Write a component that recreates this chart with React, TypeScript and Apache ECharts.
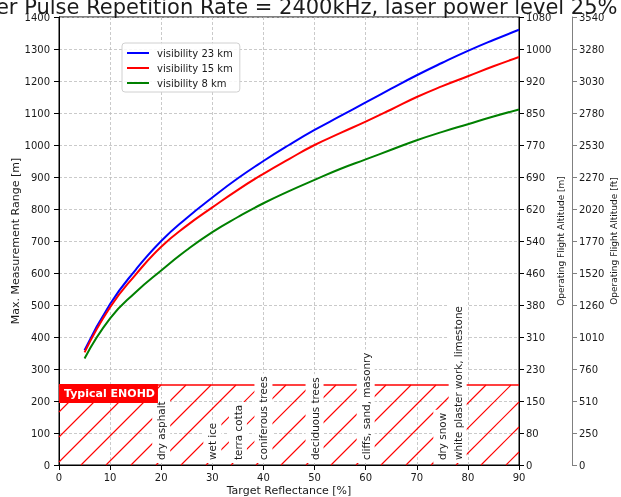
import React, { useEffect, useRef } from 'react';
import * as echarts from 'echarts';

const FONT = '"DejaVu Sans", Roboto, sans-serif';
const TXT = '#1a1a1a';

const titleText = 'Laser Pulse Repetition Rate = 2400kHz, laser power level 25%';
const seriesNames = ['visibility 23 km', 'visibility 15 km', 'visibility 8 km'];
const seriesColors = ['#0000ff', '#ff0000', '#008000'];

const reflectance = [5, 10, 15, 20, 25, 30, 35, 40, 45, 50, 55, 60, 65, 70, 75, 80, 85, 90];
const vis23 = [359, 503, 610, 700, 772, 836, 896, 950, 1000, 1047, 1090, 1133, 1176, 1218, 1257, 1294, 1328, 1360];
const vis15 = [352, 493, 595, 682, 748, 805, 860, 910, 956, 1000, 1037, 1073, 1111, 1150, 1184, 1215, 1246, 1275];
const vis8 = [333, 458, 540, 608, 672, 728, 775, 818, 856, 891, 925, 955, 985, 1015, 1041, 1065, 1089, 1111];

const altitudeMLabels = ['0', '80', '150', '230', '310', '380', '460', '540', '620', '690', '770', '850', '920', '1000', '1080'];
const altitudeFtLabels = ['0', '250', '510', '760', '1010', '1260', '1520', '1770', '2020', '2270', '2530', '2780', '3030', '3280', '3540'];

const materialNames = ['dry asphalt', 'wet ice', 'terra cotta', 'coniferous trees', 'deciduous trees', 'cliffs, sand, masonry', 'dry snow', 'white plaster work, limestone'];
const materialReflectance = [20, 30, 35, 40, 50, 60, 75, 78];

const enohdLabel = 'Typical ENOHD';
const enohdRegion = [0, 90, 250];

export default function App() {
  const ref = useRef<HTMLDivElement>(null);
  useEffect(() => {
    if (!ref.current) return;
    const chart = echarts.init(ref.current, null, { renderer: 'svg' });
    const allData = [vis23, vis15, vis8];
    const lineSeries = allData.map((d, i) => ({
      name: seriesNames[i],
      type: 'line',
      data: reflectance.map((x, j) => [x, d[j]]),
      smooth: 0.5,
      symbol: 'none',
      showSymbol: false,
      lineStyle: { color: seriesColors[i], width: 2 },
      itemStyle: { color: seriesColors[i] },
      z: 3,
    }));
    const axisLabelStyle = { color: TXT, fontSize: 10, fontFamily: FONT };
    const option: any = {
      animation: false,
      textStyle: { fontFamily: FONT },
      grid: { left: 59, right: 102, top: 17, bottom: 32, containLabel: false, outerBoundsMode: 'none', show: true, borderColor: '#000', borderWidth: 1, backgroundColor: 'transparent' },
      graphic: [
        {
          type: 'text', x: 289, y: 17, z: 10,
          style: { text: titleText, align: 'center', verticalAlign: 'bottom', fontSize: 21, fontFamily: FONT, fill: TXT },
        },
      ],
      legend: {
        data: seriesNames,
        orient: 'vertical',
        left: 122,
        top: 43,
        itemWidth: 22,
        itemHeight: 10,
        itemGap: 3,
        padding: [4, 7, 3, 4],
        borderColor: '#d0d0d0',
        borderWidth: 1,
        borderRadius: 3,
        backgroundColor: 'rgba(255,255,255,0.85)',
        itemStyle: { opacity: 0, borderWidth: 0 },
        lineStyle: { width: 2 },
        textStyle: { color: TXT, fontSize: 10, fontFamily: FONT, lineHeight: 12, padding: [0, 0, 0, 3] },
      },
      xAxis: {
        type: 'value', min: 0, max: 90, interval: 10,
        name: 'Target Reflectance [%]', nameLocation: 'middle', nameGap: 20, nameMoveOverlap: false,
        nameTextStyle: { color: TXT, fontSize: 11, fontFamily: FONT },
        axisLine: { lineStyle: { color: '#000' } },
        axisTick: { lineStyle: { color: '#000' }, length: 5 },
        axisLabel: { ...axisLabelStyle, margin: 7, formatter: (v: number) => String(v) },
        splitLine: { show: true, lineStyle: { color: '#bdbdbd', type: [3, 2], width: 0.8 } },
      },
      yAxis: [
        {
          type: 'value', min: 0, max: 1400, interval: 100, position: 'left',
          name: 'Max. Measurement Range [m]', nameLocation: 'middle', nameGap: 38, nameMoveOverlap: false,
          nameTextStyle: { color: TXT, fontSize: 11, fontFamily: FONT },
          axisLine: { show: true, lineStyle: { color: '#000' } },
          axisTick: { show: true, lineStyle: { color: '#000' }, length: 5 },
          axisLabel: { ...axisLabelStyle, margin: 9, formatter: (v: number) => String(v) },
          splitLine: { show: true, lineStyle: { color: '#bdbdbd', type: [3, 2], width: 0.8 } },
        },
        {
          type: 'value', min: 0, max: 1400, interval: 100, position: 'right', offset: 0,
          name: 'Operating Flight Altitude [m]', nameLocation: 'middle', nameGap: 37, nameMoveOverlap: false,
          nameTextStyle: { color: TXT, fontSize: 9, fontFamily: FONT },
          axisLine: { show: true, lineStyle: { color: '#000' } },
          axisTick: { show: true, lineStyle: { color: '#000' }, length: 5 },
          axisLabel: { ...axisLabelStyle, margin: 7, formatter: (v: number) => altitudeMLabels[Math.round(v / 100)] ?? '' },
          splitLine: { show: false },
        },
        {
          type: 'value', min: 0, max: 1400, interval: 100, position: 'right', offset: 53,
          name: 'Operating Flight Altitude [ft]', nameLocation: 'middle', nameGap: 37, nameMoveOverlap: false,
          nameTextStyle: { color: TXT, fontSize: 9, fontFamily: FONT },
          axisLine: { show: true, lineStyle: { color: '#808080' } },
          axisTick: { show: true, lineStyle: { color: '#808080' }, length: 5 },
          axisLabel: { ...axisLabelStyle, margin: 7, formatter: (v: number) => altitudeFtLabels[Math.round(v / 100)] ?? '' },
          splitLine: { show: false },
        },
      ],
      series: [
        {
          type: 'custom',
          name: 'hatch',
          xAxisIndex: 0, yAxisIndex: 0,
          silent: true,
          z: 2,
          data: [enohdRegion],
          renderItem: (params: any, api: any) => {
            const x0 = api.value(0), x1 = api.value(1), top = api.value(2);
            const bl = api.coord([x0, 0]);
            const tr = api.coord([x1, top]);
            const L = bl[0], B = bl[1], R = tr[0], T = tr[1];
            const step = 25;
            const base = L + B - 3;
            const children: any[] = [];
            const nStart = Math.ceil((L + T - base) / step);
            const nEnd = Math.floor((R + B - base) / step);
            for (let n = nStart; n <= nEnd; n++) {
              const c = base + n * step;
              const ya = Math.min(B, c - L);
              const xa = c - ya;
              const yb = Math.max(T, c - R);
              const xb = c - yb;
              if (ya > yb) {
                children.push({ type: 'line', shape: { x1: xa, y1: ya, x2: xb, y2: yb }, style: { stroke: '#ff0000', lineWidth: 1.1 } });
              }
            }
            children.push({ type: 'line', shape: { x1: L, y1: T, x2: R, y2: T }, style: { stroke: '#ff0000', lineWidth: 1.5 } });
            return { type: 'group', children };
          },
        },
        {
          type: 'custom',
          name: 'materials',
          xAxisIndex: 0, yAxisIndex: 0,
          silent: true,
          z: 4,
          data: materialReflectance.map((x, i) => [x, i]),
          renderItem: (params: any, api: any) => {
            const p = api.coord([api.value(0), 0]);
            return {
              type: 'text',
              x: p[0], y: p[1] - 2,
              rotation: Math.PI / 2,
              style: {
                text: materialNames[api.value(1)],
                x: 0, y: 0,
                align: 'left', verticalAlign: 'middle',
                fill: TXT, fontSize: 10.4, fontFamily: FONT,
                backgroundColor: '#ffffff',
                padding: [4, 3],
              },
            };
          },
        },
        {
          type: 'custom',
          name: 'enohd',
          xAxisIndex: 0, yAxisIndex: 0,
          silent: true,
          z: 5,
          data: [[enohdRegion[0], enohdRegion[2]]],
          renderItem: (params: any, api: any) => {
            const p = api.coord([api.value(0), api.value(1)]);
            return {
              type: 'text',
              x: p[0], y: p[1] - 1,
              style: {
                text: enohdLabel,
                x: 0, y: 0,
                align: 'left', verticalAlign: 'top',
                fill: '#ffffff', fontSize: 11, fontWeight: 'bold', fontFamily: FONT,
                backgroundColor: '#ff0000',
                padding: [4, 3, 4, 5],
              },
            };
          },
        },
        ...lineSeries,
      ],
    };
    chart.setOption(option);
    return () => chart.dispose();
  }, []);
  return <div ref={ref} style={{ position: 'fixed', left: 0, top: 0, width: 621, height: 497 }} />;
}
